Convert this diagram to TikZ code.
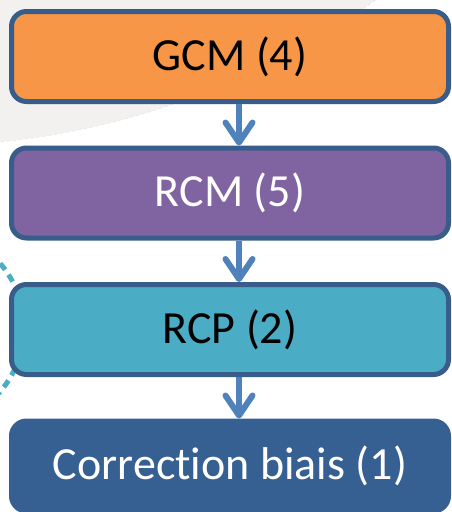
\documentclass[tikz,border=0pt]{standalone}
\usepackage{fontspec}
\setmainfont{Carlito}[Ligatures=NoCommon]
\usepackage{tikz}
\usetikzlibrary{arrows.meta, positioning}
\definecolor{boxorange}{HTML}{F79646}
\definecolor{boxpurple}{HTML}{8064A2}
\definecolor{boxteal}{HTML}{4BACC6}
\definecolor{boxnavy}{HTML}{376092}
\definecolor{rahmen}{HTML}{385D8A}
\definecolor{pfeil}{HTML}{4F81BD}
\definecolor{hellgrau}{HTML}{F2F1EF}

\begin{document}
\begin{tikzpicture}[x=1pt, y=-1pt,
    stufe/.style={draw=rahmen, line width=5pt, rounded corners=15pt,
      minimum width=437pt, minimum height=90pt, inner sep=0pt,
      font=\fontsize{46}{55}\selectfont},
    pfeilstil/.style={pfeil, line width=6pt,
      -{Straight Barb[length=20pt,width=27pt,round]}},
    node distance=41.5pt]
  \useasboundingbox (0,0) rectangle (452,512);
  % grauer Hintergrundbogen
  \begin{scope}
    \clip (0,0) rectangle (452,512);
    \fill[hellgrau] (-80,-637) circle (783);
    \draw[gray!25, dashed, thin] (-80,-637) circle (783);
  \end{scope}
  % gestrichelter Kreis links
  \draw[boxteal, line width=5pt, dash pattern=on 8pt off 6pt] (-74,327.5) circle (98);
  % Kette
  \node[stufe, fill=boxorange, text=black] (gcm) at (230,56.5) {GCM (4)};
  \node[stufe, fill=boxpurple, text=white, below=of gcm] (rcm) {RCM (5)};
  \node[stufe, fill=boxteal, text=black, below=of rcm] (rcp) {RCP (2)};
  \node[stufe, fill=boxnavy, draw=boxnavy, text=white, below=of rcp] (biais) {Correction biais (1)};
  % Pfeile
  \draw[pfeilstil] ([xshift=9pt]gcm.south) -- ([xshift=9pt]rcm.north);
  \draw[pfeilstil] ([xshift=9pt]rcm.south) -- ([xshift=9pt]rcp.north);
  \draw[pfeilstil] ([xshift=9pt]rcp.south) -- ([xshift=9pt]biais.north);
\end{tikzpicture}
\end{document}
